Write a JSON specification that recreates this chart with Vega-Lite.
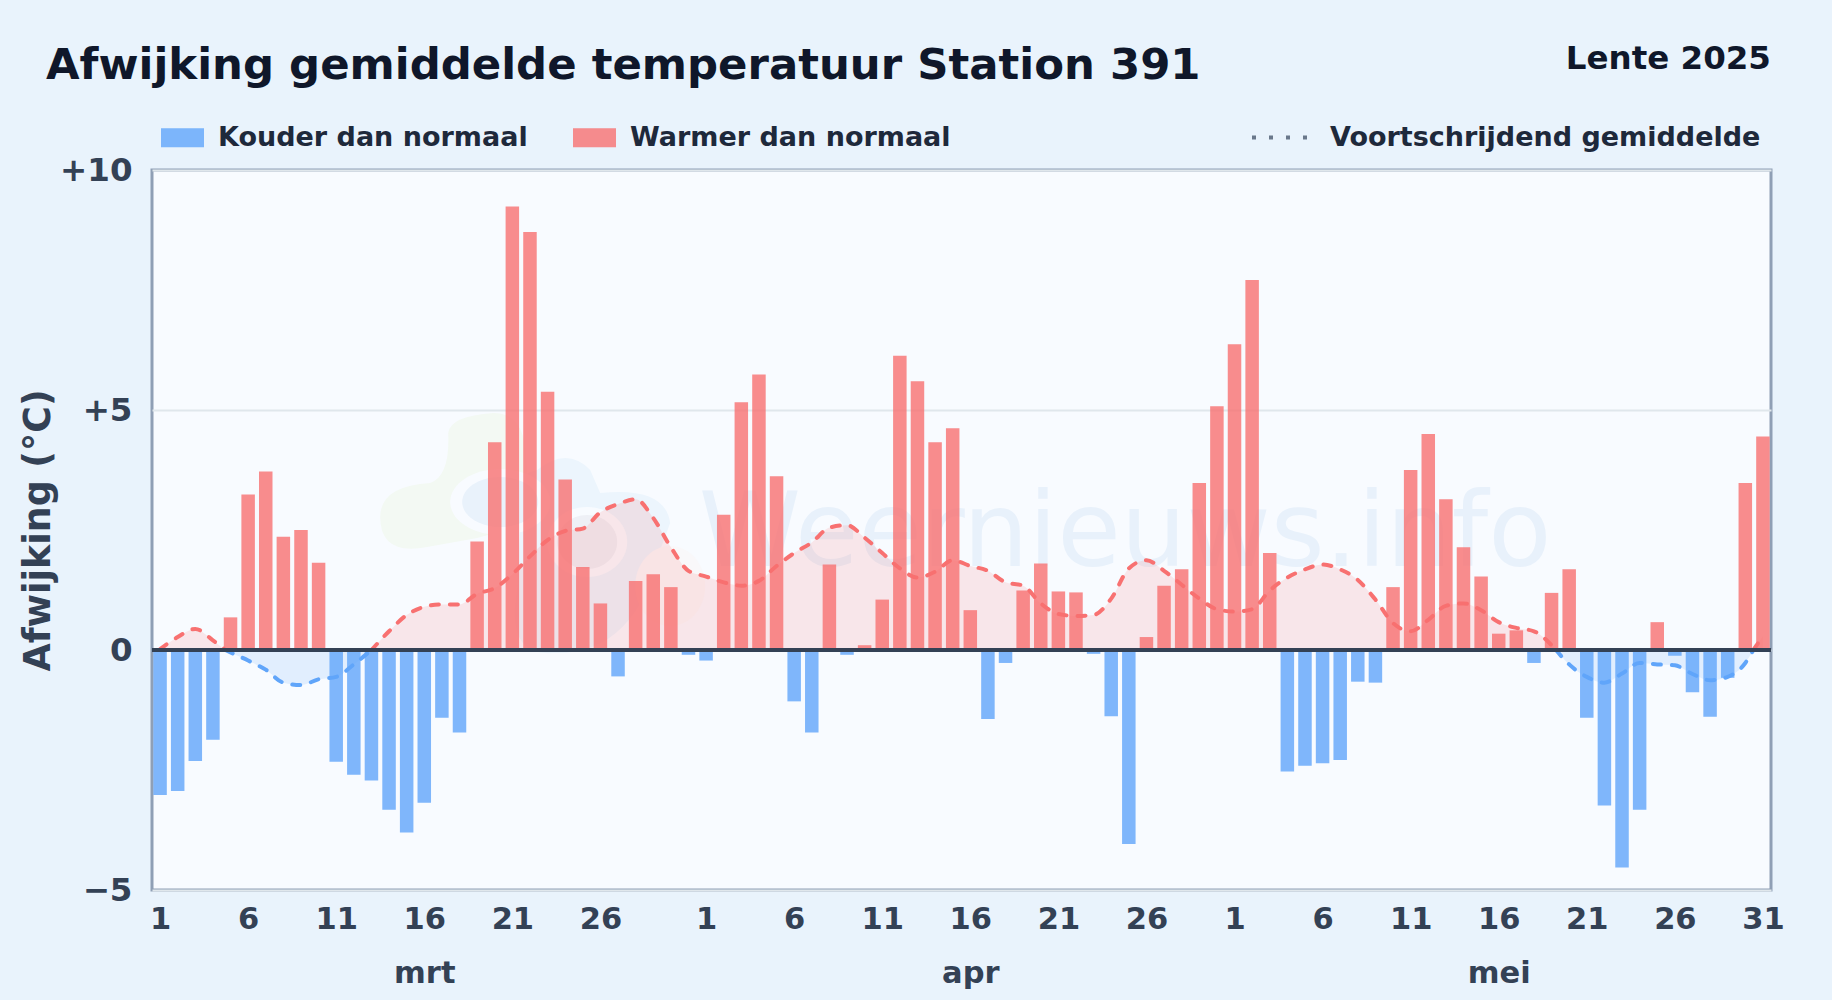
{"$schema":"https://vega.github.io/schema/vega-lite/v6.json","width":1619,"height":720,"autosize":{"type":"none"},"padding":{"left":152,"top":170,"right":61,"bottom":110},"background":"#e9f3fc","font":"DejaVu Sans",
"title":{"text":"Afwijking gemiddelde temperatuur Station 391","anchor":"start","frame":"group","dx":-106,"offset":-79,"baseline":"alphabetic","fontSize":43.4,"fontWeight":"bold","color":"#0f172a","font":"DejaVu Sans"},
"config":{"view":{"fill":"#f8fbff","stroke":"#8f9fb5","strokeWidth":3},"text":{"font":"DejaVu Sans"},"axis":{"labelFont":"DejaVu Sans","titleFont":"DejaVu Sans"},"legend":{"labelFont":"DejaVu Sans","symbolOpacity":0.8}},
"datasets":{
"dagen":[
{"date":"2025-03-01","afwijking":-3.02,"type":"Kouder dan normaal"},{"date":"2025-03-02","afwijking":-2.94,"type":"Kouder dan normaal"},{"date":"2025-03-03","afwijking":-2.31,"type":"Kouder dan normaal"},{"date":"2025-03-04","afwijking":-1.87,"type":"Kouder dan normaal"},{"date":"2025-03-05","afwijking":0.68,"type":"Warmer dan normaal"},{"date":"2025-03-06","afwijking":3.24,"type":"Warmer dan normaal"},{"date":"2025-03-07","afwijking":3.72,"type":"Warmer dan normaal"},{"date":"2025-03-08","afwijking":2.36,"type":"Warmer dan normaal"},{"date":"2025-03-09","afwijking":2.5,"type":"Warmer dan normaal"},{"date":"2025-03-10","afwijking":1.82,"type":"Warmer dan normaal"},
{"date":"2025-03-11","afwijking":-2.33,"type":"Kouder dan normaal"},{"date":"2025-03-12","afwijking":-2.6,"type":"Kouder dan normaal"},{"date":"2025-03-13","afwijking":-2.72,"type":"Kouder dan normaal"},{"date":"2025-03-14","afwijking":-3.33,"type":"Kouder dan normaal"},{"date":"2025-03-15","afwijking":-3.8,"type":"Kouder dan normaal"},{"date":"2025-03-16","afwijking":-3.18,"type":"Kouder dan normaal"},{"date":"2025-03-17","afwijking":-1.41,"type":"Kouder dan normaal"},{"date":"2025-03-18","afwijking":-1.72,"type":"Kouder dan normaal"},{"date":"2025-03-19","afwijking":2.26,"type":"Warmer dan normaal"},{"date":"2025-03-20","afwijking":4.33,"type":"Warmer dan normaal"},
{"date":"2025-03-21","afwijking":9.24,"type":"Warmer dan normaal"},{"date":"2025-03-22","afwijking":8.71,"type":"Warmer dan normaal"},{"date":"2025-03-23","afwijking":5.38,"type":"Warmer dan normaal"},{"date":"2025-03-24","afwijking":3.55,"type":"Warmer dan normaal"},{"date":"2025-03-25","afwijking":1.73,"type":"Warmer dan normaal"},{"date":"2025-03-26","afwijking":0.97,"type":"Warmer dan normaal"},{"date":"2025-03-27","afwijking":-0.55,"type":"Kouder dan normaal"},{"date":"2025-03-28","afwijking":1.44,"type":"Warmer dan normaal"},{"date":"2025-03-29","afwijking":1.58,"type":"Warmer dan normaal"},{"date":"2025-03-30","afwijking":1.31,"type":"Warmer dan normaal"},{"date":"2025-03-31","afwijking":-0.1,"type":"Kouder dan normaal"},
{"date":"2025-04-01","afwijking":-0.22,"type":"Kouder dan normaal"},{"date":"2025-04-02","afwijking":2.82,"type":"Warmer dan normaal"},{"date":"2025-04-03","afwijking":5.16,"type":"Warmer dan normaal"},{"date":"2025-04-04","afwijking":5.74,"type":"Warmer dan normaal"},{"date":"2025-04-05","afwijking":3.62,"type":"Warmer dan normaal"},{"date":"2025-04-06","afwijking":-1.07,"type":"Kouder dan normaal"},{"date":"2025-04-07","afwijking":-1.72,"type":"Kouder dan normaal"},{"date":"2025-04-08","afwijking":1.78,"type":"Warmer dan normaal"},{"date":"2025-04-09","afwijking":-0.1,"type":"Kouder dan normaal"},{"date":"2025-04-10","afwijking":0.1,"type":"Warmer dan normaal"},
{"date":"2025-04-11","afwijking":1.05,"type":"Warmer dan normaal"},{"date":"2025-04-12","afwijking":6.13,"type":"Warmer dan normaal"},{"date":"2025-04-13","afwijking":5.6,"type":"Warmer dan normaal"},{"date":"2025-04-14","afwijking":4.33,"type":"Warmer dan normaal"},{"date":"2025-04-15","afwijking":4.62,"type":"Warmer dan normaal"},{"date":"2025-04-16","afwijking":0.83,"type":"Warmer dan normaal"},{"date":"2025-04-17","afwijking":-1.44,"type":"Kouder dan normaal"},{"date":"2025-04-18","afwijking":-0.27,"type":"Kouder dan normaal"},{"date":"2025-04-19","afwijking":1.24,"type":"Warmer dan normaal"},{"date":"2025-04-20","afwijking":1.8,"type":"Warmer dan normaal"},
{"date":"2025-04-21","afwijking":1.22,"type":"Warmer dan normaal"},{"date":"2025-04-22","afwijking":1.2,"type":"Warmer dan normaal"},{"date":"2025-04-23","afwijking":-0.08,"type":"Kouder dan normaal"},{"date":"2025-04-24","afwijking":-1.38,"type":"Kouder dan normaal"},{"date":"2025-04-25","afwijking":-4.04,"type":"Kouder dan normaal"},{"date":"2025-04-26","afwijking":0.27,"type":"Warmer dan normaal"},{"date":"2025-04-27","afwijking":1.34,"type":"Warmer dan normaal"},{"date":"2025-04-28","afwijking":1.68,"type":"Warmer dan normaal"},{"date":"2025-04-29","afwijking":3.48,"type":"Warmer dan normaal"},{"date":"2025-04-30","afwijking":5.08,"type":"Warmer dan normaal"},
{"date":"2025-05-01","afwijking":6.37,"type":"Warmer dan normaal"},{"date":"2025-05-02","afwijking":7.71,"type":"Warmer dan normaal"},{"date":"2025-05-03","afwijking":2.02,"type":"Warmer dan normaal"},{"date":"2025-05-04","afwijking":-2.53,"type":"Kouder dan normaal"},{"date":"2025-05-05","afwijking":-2.41,"type":"Kouder dan normaal"},{"date":"2025-05-06","afwijking":-2.36,"type":"Kouder dan normaal"},{"date":"2025-05-07","afwijking":-2.29,"type":"Kouder dan normaal"},{"date":"2025-05-08","afwijking":-0.66,"type":"Kouder dan normaal"},{"date":"2025-05-09","afwijking":-0.68,"type":"Kouder dan normaal"},{"date":"2025-05-10","afwijking":1.31,"type":"Warmer dan normaal"},
{"date":"2025-05-11","afwijking":3.75,"type":"Warmer dan normaal"},{"date":"2025-05-12","afwijking":4.5,"type":"Warmer dan normaal"},{"date":"2025-05-13","afwijking":3.14,"type":"Warmer dan normaal"},{"date":"2025-05-14","afwijking":2.14,"type":"Warmer dan normaal"},{"date":"2025-05-15","afwijking":1.53,"type":"Warmer dan normaal"},{"date":"2025-05-16","afwijking":0.34,"type":"Warmer dan normaal"},{"date":"2025-05-17","afwijking":0.41,"type":"Warmer dan normaal"},{"date":"2025-05-18","afwijking":-0.27,"type":"Kouder dan normaal"},{"date":"2025-05-19","afwijking":1.19,"type":"Warmer dan normaal"},{"date":"2025-05-20","afwijking":1.68,"type":"Warmer dan normaal"},
{"date":"2025-05-21","afwijking":-1.41,"type":"Kouder dan normaal"},{"date":"2025-05-22","afwijking":-3.24,"type":"Kouder dan normaal"},{"date":"2025-05-23","afwijking":-4.53,"type":"Kouder dan normaal"},{"date":"2025-05-24","afwijking":-3.33,"type":"Kouder dan normaal"},{"date":"2025-05-25","afwijking":0.58,"type":"Warmer dan normaal"},{"date":"2025-05-26","afwijking":-0.12,"type":"Kouder dan normaal"},{"date":"2025-05-27","afwijking":-0.88,"type":"Kouder dan normaal"},{"date":"2025-05-28","afwijking":-1.39,"type":"Kouder dan normaal"},{"date":"2025-05-29","afwijking":-0.58,"type":"Kouder dan normaal"},{"date":"2025-05-30","afwijking":3.48,"type":"Warmer dan normaal"},{"date":"2025-05-31","afwijking":4.45,"type":"Warmer dan normaal"}
],
"gemiddelde":[
{"date":"2025-03-01","gem":0.02,"type":"Warmer dan normaal","seg":1},{"date":"2025-03-02","gem":0.27,"type":"Warmer dan normaal","seg":1},{"date":"2025-03-03","gem":0.44,"type":"Warmer dan normaal","seg":1},{"date":"2025-03-04","gem":0.2,"type":"Warmer dan normaal","seg":1},{"date":"2025-03-04T17:00:00Z","gem":0,"type":"Warmer dan normaal","seg":1},
{"date":"2025-03-04T17:00:00Z","gem":0,"type":"Kouder dan normaal","seg":2},{"date":"2025-03-05","gem":-0.05,"type":"Kouder dan normaal","seg":2},{"date":"2025-03-06","gem":-0.22,"type":"Kouder dan normaal","seg":2},{"date":"2025-03-07","gem":-0.41,"type":"Kouder dan normaal","seg":2},{"date":"2025-03-08","gem":-0.68,"type":"Kouder dan normaal","seg":2},{"date":"2025-03-09","gem":-0.73,"type":"Kouder dan normaal","seg":2},{"date":"2025-03-10","gem":-0.61,"type":"Kouder dan normaal","seg":2},{"date":"2025-03-11","gem":-0.56,"type":"Kouder dan normaal","seg":2},{"date":"2025-03-12","gem":-0.3,"type":"Kouder dan normaal","seg":2},{"date":"2025-03-13","gem":0,"type":"Kouder dan normaal","seg":2},
{"date":"2025-03-13","gem":0,"type":"Warmer dan normaal","seg":3},{"date":"2025-03-14","gem":0.39,"type":"Warmer dan normaal","seg":3},{"date":"2025-03-15","gem":0.73,"type":"Warmer dan normaal","seg":3},{"date":"2025-03-16","gem":0.9,"type":"Warmer dan normaal","seg":3},{"date":"2025-03-17","gem":0.95,"type":"Warmer dan normaal","seg":3},{"date":"2025-03-18","gem":0.95,"type":"Warmer dan normaal","seg":3},{"date":"2025-03-19","gem":1.17,"type":"Warmer dan normaal","seg":3},{"date":"2025-03-20","gem":1.29,"type":"Warmer dan normaal","seg":3},{"date":"2025-03-21","gem":1.58,"type":"Warmer dan normaal","seg":3},{"date":"2025-03-22","gem":1.95,"type":"Warmer dan normaal","seg":3},{"date":"2025-03-23","gem":2.29,"type":"Warmer dan normaal","seg":3},{"date":"2025-03-24","gem":2.48,"type":"Warmer dan normaal","seg":3},{"date":"2025-03-25","gem":2.53,"type":"Warmer dan normaal","seg":3},{"date":"2025-03-26","gem":2.87,"type":"Warmer dan normaal","seg":3},{"date":"2025-03-27","gem":3.04,"type":"Warmer dan normaal","seg":3},{"date":"2025-03-28","gem":3.14,"type":"Warmer dan normaal","seg":3},{"date":"2025-03-29","gem":2.75,"type":"Warmer dan normaal","seg":3},{"date":"2025-03-30","gem":2.14,"type":"Warmer dan normaal","seg":3},{"date":"2025-03-31","gem":1.65,"type":"Warmer dan normaal","seg":3},
{"date":"2025-04-01","gem":1.53,"type":"Warmer dan normaal","seg":3},{"date":"2025-04-02","gem":1.41,"type":"Warmer dan normaal","seg":3},{"date":"2025-04-03","gem":1.34,"type":"Warmer dan normaal","seg":3},{"date":"2025-04-04","gem":1.44,"type":"Warmer dan normaal","seg":3},{"date":"2025-04-05","gem":1.75,"type":"Warmer dan normaal","seg":3},{"date":"2025-04-06","gem":2.02,"type":"Warmer dan normaal","seg":3},{"date":"2025-04-07","gem":2.24,"type":"Warmer dan normaal","seg":3},{"date":"2025-04-08","gem":2.55,"type":"Warmer dan normaal","seg":3},{"date":"2025-04-09","gem":2.6,"type":"Warmer dan normaal","seg":3},{"date":"2025-04-10","gem":2.34,"type":"Warmer dan normaal","seg":3},{"date":"2025-04-11","gem":2.02,"type":"Warmer dan normaal","seg":3},{"date":"2025-04-12","gem":1.7,"type":"Warmer dan normaal","seg":3},{"date":"2025-04-13","gem":1.51,"type":"Warmer dan normaal","seg":3},{"date":"2025-04-14","gem":1.63,"type":"Warmer dan normaal","seg":3},{"date":"2025-04-15","gem":1.87,"type":"Warmer dan normaal","seg":3},{"date":"2025-04-16","gem":1.75,"type":"Warmer dan normaal","seg":3},{"date":"2025-04-17","gem":1.65,"type":"Warmer dan normaal","seg":3},{"date":"2025-04-18","gem":1.41,"type":"Warmer dan normaal","seg":3},{"date":"2025-04-19","gem":1.34,"type":"Warmer dan normaal","seg":3},{"date":"2025-04-20","gem":0.97,"type":"Warmer dan normaal","seg":3},{"date":"2025-04-21","gem":0.75,"type":"Warmer dan normaal","seg":3},{"date":"2025-04-22","gem":0.71,"type":"Warmer dan normaal","seg":3},{"date":"2025-04-23","gem":0.73,"type":"Warmer dan normaal","seg":3},{"date":"2025-04-24","gem":1.07,"type":"Warmer dan normaal","seg":3},{"date":"2025-04-25","gem":1.7,"type":"Warmer dan normaal","seg":3},{"date":"2025-04-26","gem":1.87,"type":"Warmer dan normaal","seg":3},{"date":"2025-04-27","gem":1.65,"type":"Warmer dan normaal","seg":3},{"date":"2025-04-28","gem":1.36,"type":"Warmer dan normaal","seg":3},{"date":"2025-04-29","gem":1.07,"type":"Warmer dan normaal","seg":3},{"date":"2025-04-30","gem":0.85,"type":"Warmer dan normaal","seg":3},
{"date":"2025-05-01","gem":0.8,"type":"Warmer dan normaal","seg":3},{"date":"2025-05-02","gem":0.85,"type":"Warmer dan normaal","seg":3},{"date":"2025-05-03","gem":1.24,"type":"Warmer dan normaal","seg":3},{"date":"2025-05-04","gem":1.51,"type":"Warmer dan normaal","seg":3},{"date":"2025-05-05","gem":1.68,"type":"Warmer dan normaal","seg":3},{"date":"2025-05-06","gem":1.78,"type":"Warmer dan normaal","seg":3},{"date":"2025-05-07","gem":1.68,"type":"Warmer dan normaal","seg":3},{"date":"2025-05-08","gem":1.46,"type":"Warmer dan normaal","seg":3},{"date":"2025-05-09","gem":1.05,"type":"Warmer dan normaal","seg":3},{"date":"2025-05-10","gem":0.56,"type":"Warmer dan normaal","seg":3},{"date":"2025-05-11","gem":0.39,"type":"Warmer dan normaal","seg":3},{"date":"2025-05-12","gem":0.63,"type":"Warmer dan normaal","seg":3},{"date":"2025-05-13","gem":0.92,"type":"Warmer dan normaal","seg":3},{"date":"2025-05-14","gem":0.97,"type":"Warmer dan normaal","seg":3},{"date":"2025-05-15","gem":0.83,"type":"Warmer dan normaal","seg":3},{"date":"2025-05-16","gem":0.58,"type":"Warmer dan normaal","seg":3},{"date":"2025-05-17","gem":0.46,"type":"Warmer dan normaal","seg":3},{"date":"2025-05-18","gem":0.39,"type":"Warmer dan normaal","seg":3},{"date":"2025-05-19","gem":0.1,"type":"Warmer dan normaal","seg":3},{"date":"2025-05-19T06:00:00Z","gem":0,"type":"Warmer dan normaal","seg":3},
{"date":"2025-05-19T06:00:00Z","gem":0,"type":"Kouder dan normaal","seg":4},{"date":"2025-05-20","gem":-0.3,"type":"Kouder dan normaal","seg":4},{"date":"2025-05-21","gem":-0.56,"type":"Kouder dan normaal","seg":4},{"date":"2025-05-22","gem":-0.68,"type":"Kouder dan normaal","seg":4},{"date":"2025-05-23","gem":-0.49,"type":"Kouder dan normaal","seg":4},{"date":"2025-05-24","gem":-0.27,"type":"Kouder dan normaal","seg":4},{"date":"2025-05-25","gem":-0.3,"type":"Kouder dan normaal","seg":4},{"date":"2025-05-26","gem":-0.32,"type":"Kouder dan normaal","seg":4},{"date":"2025-05-27","gem":-0.5,"type":"Kouder dan normaal","seg":4},{"date":"2025-05-28","gem":-0.63,"type":"Kouder dan normaal","seg":4},{"date":"2025-05-29","gem":-0.56,"type":"Kouder dan normaal","seg":4},{"date":"2025-05-30","gem":-0.27,"type":"Kouder dan normaal","seg":4},{"date":"2025-05-30T11:00:00Z","gem":0,"type":"Kouder dan normaal","seg":4},
{"date":"2025-05-30T11:00:00Z","gem":0,"type":"Warmer dan normaal","seg":5},{"date":"2025-05-31","gem":0.29,"type":"Warmer dan normaal","seg":5}
]},
"resolve":{"axis":{"x":"independent"}},
"layer":[
{"data":{"values":[{"deel":"groen"},{"deel":"blauw"},{"deel":"zon"},{"deel":"ring1"},{"deel":"kern1"},{"deel":"ring2"},{"deel":"kern2"}]},
 "mark":{"type":"point","filled":true,"opacity":1,"size":4,"strokeWidth":0},
 "encoding":{
  "x":{"datum":{"year":2025,"month":3,"date":24,"utc":true},"type":"temporal","axis":null},
  "y":{"datum":3,"type":"quantitative"},
  "shape":{"field":"deel","type":"nominal","legend":null,"scale":{"domain":["groen","blauw","zon","ring1","kern1","ring2","kern2"],"range":["M-117,-73 Q-115,-90 -72,-93 Q-45,-93 -40,-60 L-38,-33 Q-30,20 -88,32 L-138,41 Q-185,50 -185,11 Q-185,-20 -135,-23 Q-115,-30 -117,-73Z","M-28,-36 Q2,-60 25,-36 L35,-13 Q100,-20 105,17 L95,44 Q70,150 -13,147 Q-60,150 -48,84 L-45,17 Q-60,-30 -28,-36Z","M70,80 A35,40 0 1 1 140,80 A35,40 0 1 1 70,80Z","M-115,-4 A50,33 0 1 1 -15,-4 A50,33 0 1 1 -115,-4Z","M-103,-4 A38,25 0 1 1 -27,-4 A38,25 0 1 1 -103,-4Z","M-18,36 A40,35 0 1 1 62,36 A40,35 0 1 1 -18,36Z","M-8,36 A30,27 0 1 1 52,36 A30,27 0 1 1 -8,36Z"]}},
  "fill":{"field":"deel","type":"nominal","legend":null,"scale":{"domain":["groen","blauw","zon","ring1","kern1","ring2","kern2"],"range":["#f3f9f3","#ecf5fd","#f9f8fa","#f8fbff","#e9f2fb","#f8fbff","#eef0f6"]}}
 }},
{"data":{"values":[{"tekst":"Weernieuws.info"}]},
 "mark":{"type":"text","fontSize":103.4,"color":"#e8f1fb","align":"center","baseline":"alphabetic","font":"DejaVu Sans"},
 "encoding":{"text":{"field":"tekst"},"x":{"datum":{"year":2025,"month":4,"date":24,"hours":19,"utc":true},"type":"temporal","axis":null},"y":{"datum":1.75,"type":"quantitative"}}},
{"data":{"name":"gemiddelde"},
 "mark":{"type":"area","interpolate":"monotone","opacity":0.15},
 "encoding":{"x":{"field":"date","type":"temporal","axis":null},"y":{"field":"gem","type":"quantitative","stack":null},"detail":{"field":"seg"},"color":{"field":"type","type":"nominal"}}},
{"data":{"name":"gemiddelde"},
 "mark":{"type":"line","interpolate":"monotone","strokeWidth":4,"strokeCap":"round","strokeDash":[8,11]},
 "encoding":{
  "x":{"field":"date","type":"temporal","axis":{"orient":"bottom","values":[{"year":2025,"month":3,"date":16,"utc":true},{"year":2025,"month":4,"date":16,"utc":true},{"year":2025,"month":5,"date":16,"utc":true}],"labelExpr":"['mrt','apr','mei'][utcmonth(datum.value)-2]","title":null,"domain":false,"ticks":false,"grid":false,"labelPadding":68,"labelFontSize":30.5,"labelFontWeight":"bold","labelColor":"#334155","labelOverlap":false,"labelBound":false,"labelFlush":false}},
  "y":{"field":"gem","type":"quantitative"},
  "detail":{"field":"seg"},
  "color":{"field":"type","type":"nominal"}
 }},
{"data":{"values":[{"nul":0}]},
 "mark":{"type":"rule","color":"#4b5a70","strokeWidth":3},
 "encoding":{
  "y":{"field":"nul","type":"quantitative"},
  "strokeDash":{"datum":"Voortschrijdend gemiddelde","type":"nominal","scale":{"domain":["Voortschrijdend gemiddelde"],"range":[[4,13]]},"legend":{"orient":"none","legendX":1098,"legendY":-62,"title":null,"symbolType":"stroke","symbolSize":3025,"symbolStrokeWidth":4,"labelOffset":21,"labelFontSize":27,"labelFontWeight":"bold","labelColor":"#1e293b","labelLimit":500}}
 }},
{"data":{"name":"dagen"},
 "mark":{"type":"bar","width":13.5,"opacity":0.8},
 "encoding":{
  "x":{"field":"date","type":"temporal","scale":{"type":"utc","padding":0,"domain":[{"year":2025,"month":2,"date":28,"hours":13,"utc":true},{"year":2025,"month":5,"date":31,"hours":11,"utc":true}]},
   "axis":{"orient":"bottom","values":[{"year":2025,"month":3,"date":1,"utc":true},{"year":2025,"month":3,"date":6,"utc":true},{"year":2025,"month":3,"date":11,"utc":true},{"year":2025,"month":3,"date":16,"utc":true},{"year":2025,"month":3,"date":21,"utc":true},{"year":2025,"month":3,"date":26,"utc":true},{"year":2025,"month":4,"date":1,"utc":true},{"year":2025,"month":4,"date":6,"utc":true},{"year":2025,"month":4,"date":11,"utc":true},{"year":2025,"month":4,"date":16,"utc":true},{"year":2025,"month":4,"date":21,"utc":true},{"year":2025,"month":4,"date":26,"utc":true},{"year":2025,"month":5,"date":1,"utc":true},{"year":2025,"month":5,"date":6,"utc":true},{"year":2025,"month":5,"date":11,"utc":true},{"year":2025,"month":5,"date":16,"utc":true},{"year":2025,"month":5,"date":21,"utc":true},{"year":2025,"month":5,"date":26,"utc":true},{"year":2025,"month":5,"date":31,"utc":true}],"labelExpr":"utcdate(datum.value)","title":null,"domain":false,"ticks":false,"grid":false,"labelPadding":14,"labelFontSize":30.5,"labelFontWeight":"bold","labelColor":"#334155","labelOverlap":false,"labelBound":false,"labelFlush":false}},
  "y":{"field":"afwijking","type":"quantitative","scale":{"domain":[-5,10],"nice":false},
   "axis":{"values":[-5,0,5,10],"labelExpr":"datum.value>0?'+'+datum.value:(datum.value<0?'−'+abs(datum.value):'0')","title":"Afwijking (°C)","titleFontSize":36.4,"titleFontWeight":"bold","titleColor":"#334155","titlePadding":2,"domain":false,"ticks":false,"grid":true,"gridColor":"#e0e7ec","gridWidth":2,"labelPadding":20,"labelFontSize":32.5,"labelFontWeight":"bold","labelColor":"#334155","labelOverlap":false,"labelBound":false}},
  "color":{"field":"type","type":"nominal","scale":{"domain":["Kouder dan normaal","Warmer dan normaal"],"range":["#60a5fa","#f87171"]},
   "legend":{"orient":"none","legendX":9,"legendY":-54,"direction":"horizontal","title":null,"symbolType":"M-1,-0.44H1V0.44H-1Z","symbolSize":1849,"symbolStrokeWidth":0,"labelOffset":14,"columnPadding":45,"labelFontSize":27,"labelFontWeight":"bold","labelColor":"#1e293b","labelLimit":500}}
 }},
{"data":{"values":[{"nul":0}]},
 "mark":{"type":"rule","color":"#334155","strokeWidth":4},
 "encoding":{"y":{"field":"nul","type":"quantitative"}}},
{"data":{"values":[{"tekst":"Lente 2025"}]},
 "mark":{"type":"text","fontSize":32.5,"fontWeight":"bold","color":"#0f172a","align":"right","baseline":"alphabetic","font":"DejaVu Sans"},
 "encoding":{"text":{"field":"tekst"},"x":{"datum":{"year":2025,"month":5,"date":31,"hours":11,"utc":true},"type":"temporal","axis":null},"y":{"datum":12.1,"type":"quantitative"}}}
]}
